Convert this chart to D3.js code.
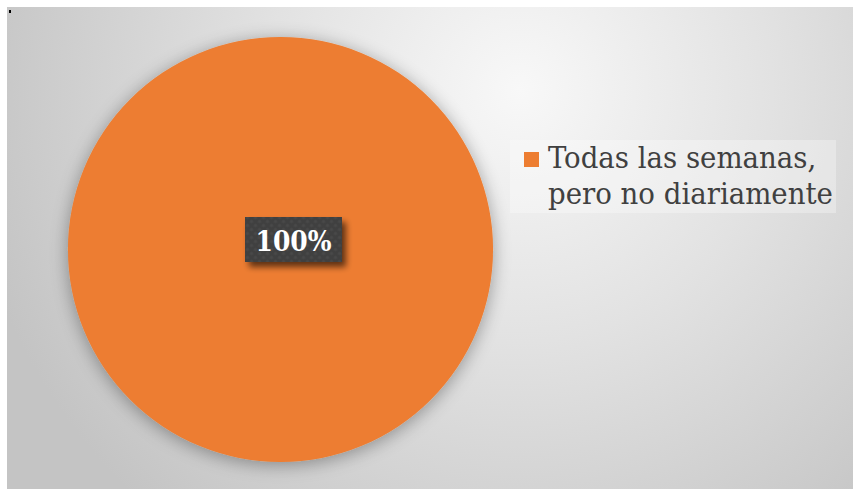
<!DOCTYPE html>
<html>
<head>
<meta charset="utf-8">
<script src="https://cdn.jsdelivr.net/npm/d3@7"></script>
<style>
  html, body { margin: 0; padding: 0; background: #ffffff; }
  svg { display: block; }
  .serif { font-family: "DejaVu Serif", serif; font-stretch: condensed; }
</style>
</head>
<body>
<svg id="chart" width="853" height="489"></svg>
<script>
// Survey answer shares
const categories = ["Todas las semanas, pero no diariamente"];
const values = [100];
const valueLabels = ["100%"];
const legendLines = [["Todas las semanas,", "pero no diariamente"]];
const colors = ["#ED7D31"];

const W = 853, H = 489;
const svg = d3.select("#chart");
const defs = svg.append("defs");

// shrink a text's font until its widest line spans the wanted width
function fitWidth(textSel, lineSel, startSize, wanted) {
  textSel.attr("font-size", startSize);
  let w = 0;
  lineSel.each(function () { w = Math.max(w, this.getComputedTextLength()); });
  if (w > 0) textSel.attr("font-size", Math.min(startSize, startSize * wanted / w));
}

// chart area background: soft radial grey
const bg = defs.append("radialGradient")
  .attr("id", "bgGrad")
  .attr("gradientUnits", "userSpaceOnUse")
  .attr("cx", 520).attr("cy", 90).attr("r", 560);
bg.append("stop").attr("offset", 0).attr("stop-color", "#f8f8f8");
bg.append("stop").attr("offset", 0.45).attr("stop-color", "#e2e2e2");
bg.append("stop").attr("offset", 1).attr("stop-color", "#c4c4c4");

// soft shadow around the pie
const pieShadow = defs.append("filter").attr("id", "pieShadow")
  .attr("x", "-20%").attr("y", "-20%").attr("width", "140%").attr("height", "140%");
pieShadow.append("feGaussianBlur").attr("in", "SourceAlpha").attr("stdDeviation", 9).attr("result", "b");
pieShadow.append("feOffset").attr("in", "b").attr("dx", 0).attr("dy", 3).attr("result", "o");
pieShadow.append("feComponentTransfer").attr("in", "o").attr("result", "s")
  .append("feFuncA").attr("type", "linear").attr("slope", 0.35);
const m1 = pieShadow.append("feMerge");
m1.append("feMergeNode").attr("in", "s");
m1.append("feMergeNode").attr("in", "SourceGraphic");

// shadow for the data label box
const boxShadow = defs.append("filter").attr("id", "boxShadow")
  .attr("x", "-30%").attr("y", "-40%").attr("width", "170%").attr("height", "200%");
boxShadow.append("feGaussianBlur").attr("in", "SourceAlpha").attr("stdDeviation", 3).attr("result", "b");
boxShadow.append("feOffset").attr("in", "b").attr("dx", 4).attr("dy", 5).attr("result", "o");
boxShadow.append("feComponentTransfer").attr("in", "o").attr("result", "s")
  .append("feFuncA").attr("type", "linear").attr("slope", 0.6);
const m2 = boxShadow.append("feMerge");
m2.append("feMergeNode").attr("in", "s");
m2.append("feMergeNode").attr("in", "SourceGraphic");

// dotted texture for the label box
const pat = defs.append("pattern").attr("id", "dots")
  .attr("patternUnits", "userSpaceOnUse").attr("width", 8).attr("height", 8);
pat.append("rect").attr("width", 8).attr("height", 8).attr("fill", "#404040");
pat.append("circle").attr("cx", 2).attr("cy", 2).attr("r", 1.6).attr("fill", "#4a4a4a");
pat.append("circle").attr("cx", 6).attr("cy", 6).attr("r", 1.6).attr("fill", "#4a4a4a");

// chart area
svg.append("rect")
  .attr("x", 7).attr("y", 7).attr("width", W - 7).attr("height", H - 7)
  .attr("fill", "url(#bgGrad)");
svg.append("rect")
  .attr("x", 9).attr("y", 10).attr("width", 2).attr("height", 3)
  .attr("fill", "#000");

// pie
const cx = 280.5, cy = 249.5, radius = 212.5;
const pie = d3.pie().sort(null).value(d => d)(values);
const arc = d3.arc().innerRadius(0).outerRadius(radius);

const g = svg.append("g").attr("transform", `translate(${cx},${cy})`);
g.selectAll("path.slice")
  .data(pie)
  .join("path")
  .attr("class", "slice")
  .attr("d", arc)
  .attr("fill", (d, i) => colors[i])
  .attr("filter", "url(#pieShadow)");

// data label
const labelDx = 13, labelDy = -10;
const lbl = g.selectAll("g.lbl")
  .data(pie)
  .join("g")
  .attr("class", "lbl")
  .attr("transform", `translate(${labelDx},${labelDy})`);
lbl.append("rect")
  .attr("x", -48.5).attr("y", -22.5).attr("width", 97).attr("height", 45)
  .attr("fill", "url(#dots)")
  .attr("filter", "url(#boxShadow)");
const lblText = lbl.append("text")
  .attr("class", "serif")
  .attr("text-anchor", "middle")
  .attr("y", 11.5)
  .attr("font-weight", "bold")
  .attr("fill", "#ffffff")
  .text((d, i) => valueLabels[i]);
lblText.each(function () { const t = d3.select(this); fitWidth(t, t, 30, 76); });

// legend
const legend = svg.append("g").attr("transform", "translate(510,140)");
legend.append("rect")
  .attr("width", 326).attr("height", 73)
  .attr("fill", "#ffffff").attr("fill-opacity", 0.3);
const items = legend.selectAll("g.item")
  .data(categories)
  .join("g")
  .attr("class", "item");
items.append("rect")
  .attr("x", 14).attr("y", 12).attr("width", 15).attr("height", 15)
  .attr("fill", (d, i) => colors[i]);
const txt = items.append("text")
  .attr("class", "serif")
  .attr("fill", "#404040");
txt.selectAll("tspan")
  .data((d, i) => legendLines[i])
  .join("tspan")
  .attr("x", 38)
  .attr("y", (d, j) => 28 + j * 36)
  .text(d => d);
txt.each(function () { const t = d3.select(this); fitWidth(t, t.selectAll("tspan"), 34, 285); });
</script>
</body>
</html>
